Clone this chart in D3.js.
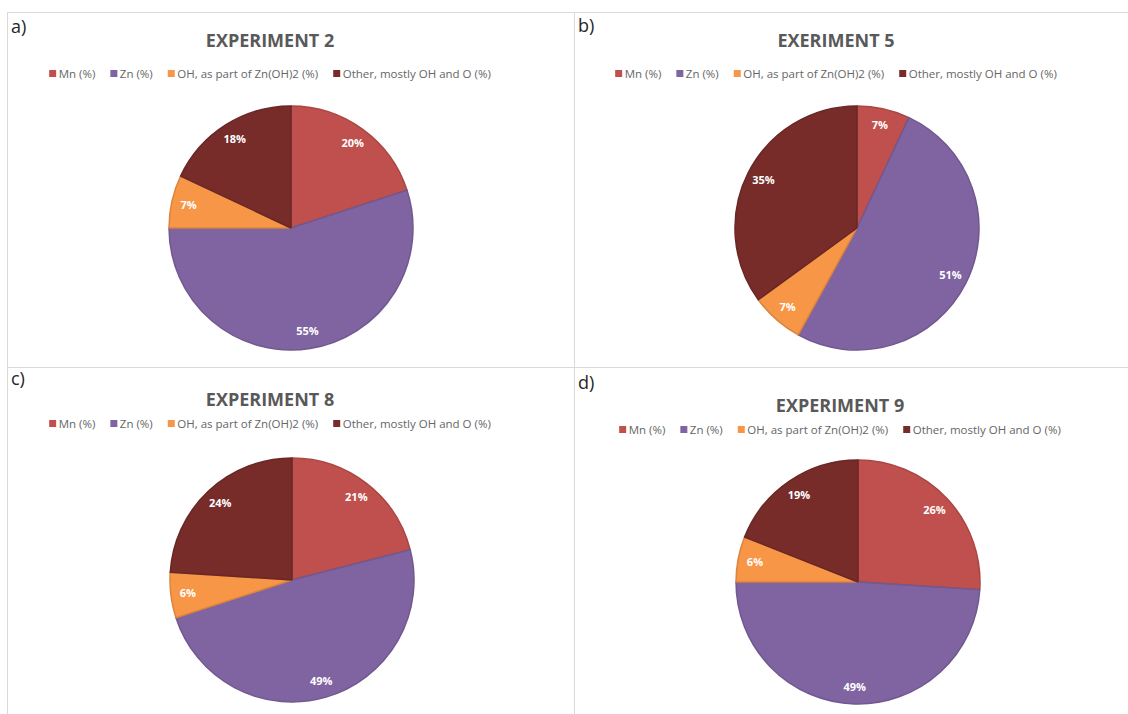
<!DOCTYPE html>
<html>
<head>
<meta charset="utf-8">
<script src="https://cdn.jsdelivr.net/npm/d3@7"></script>
<style>
  body { margin: 0; background: #fff; }
  svg { display: block; }
</style>
</head>
<body>
<div id="chart"></div>
<script>
// categories shared by all four pies
var categories = ["Mn (%)", "Zn (%)", "OH, as part of Zn(OH)2 (%)", "Other, mostly OH and O (%)"];
var colors = ["#C0504D", "#8064A2", "#F79646", "#772C2A"];

// panel titles and letters
var titles = ["EXPERIMENT 2", "EXERIMENT 5", "EXPERIMENT 8", "EXPERIMENT 9"];
var letters = ["a)", "b)", "c)", "d)"];

// percentages, in category order
var exp2 = [20, 55, 7, 18];
var exp5 = [7, 51, 7, 35];
var exp8 = [21, 49, 6, 24];
var exp9 = [26, 49, 6, 19];
var series = [exp2, exp5, exp8, exp9];

var W = 1128, H = 714;

// panel frames and the small offsets of each panel's contents
var panels = [
    {x: 7,   y: 12,  w: 567, h: 355, letterY: 33, titleY: 47, legendY: 78, cy: 228},
    {x: 574, y: 12,  w: 554, h: 355, letterY: 32, titleY: 47, legendY: 78, cy: 228},
    {x: 7,   y: 367, w: 567, h: 347, letterY: 385, titleY: 406, legendY: 428, cy: 580},
    {x: 574, y: 367, w: 554, h: 347, letterY: 389, titleY: 412, legendY: 434, cy: 582}
];
var pieCx = [291, 857, 292, 858];
var textCx = [270, 836, 270, 840];
var radius = 122;

var svg = d3.select("#chart").append("svg")
    .attr("width", W)
    .attr("height", H);

var pie = d3.pie()
    .sort(null)
    .value(function(d) { return d; });

var arc = d3.arc()
    .innerRadius(0)
    .outerRadius(radius);

var labelArc = d3.arc()
    .innerRadius(radius * 0.86)
    .outerRadius(radius * 0.86);

var font = "'Open Sans', 'Liberation Sans', sans-serif";

panels.forEach(function(p, i) {
    var g = svg.append("g");

    // frame
    g.append("rect")
        .attr("x", p.x + 0.5)
        .attr("y", p.y + 0.5)
        .attr("width", p.w)
        .attr("height", p.h)
        .attr("fill", "none")
        .attr("stroke", "#D9D9D9")
        .attr("stroke-width", 1);

    g.append("text")
        .attr("x", p.x + 4)
        .attr("y", p.letterY)
        .attr("font-family", font)
        .attr("font-size", 18)
        .attr("fill", "#262626")
        .text(letters[i]);

    g.append("text")
        .attr("x", textCx[i])
        .attr("y", p.titleY)
        .attr("text-anchor", "middle")
        .attr("font-family", font)
        .attr("font-weight", "bold")
        .attr("font-size", 18)
        .attr("fill", "#595959")
        .text(titles[i]);

    // legend, laid out from measured text widths and centred
    var legend = g.append("g");
    var xpos = 0;
    categories.forEach(function(c, k) {
        var item = legend.append("g").attr("transform", "translate(" + xpos + ",0)");
        item.append("rect")
            .attr("x", 0)
            .attr("y", -8)
            .attr("width", 7)
            .attr("height", 7)
            .attr("fill", colors[k]);
        var t = item.append("text")
            .attr("x", 9.5)
            .attr("y", 0)
            .attr("font-family", font)
            .attr("font-size", 11.5)
            .attr("fill", "#666666")
            .text(c);
        xpos += 9.5 + t.node().getComputedTextLength() + 15;
    });
    var legendW = xpos - 15;
    legend.attr("transform", "translate(" + (textCx[i] - legendW / 2) + "," + p.legendY + ")");

    // pie
    var pg = g.append("g")
        .attr("transform", "translate(" + pieCx[i] + "," + p.cy + ")");

    var slices = pie(series[i]);

    pg.selectAll("path")
        .data(slices)
        .enter()
        .append("path")
        .attr("d", arc)
        .attr("fill", function(d, k) { return colors[k]; })
        .attr("stroke", function(d, k) { return d3.color(colors[k]).darker(0.35); })
        .attr("stroke-width", 1.5)
        .attr("stroke-linejoin", "round");

    pg.selectAll("text")
        .data(slices)
        .enter()
        .append("text")
        .attr("transform", function(d) { return "translate(" + labelArc.centroid(d) + ")"; })
        .attr("text-anchor", "middle")
        .attr("dy", "0.35em")
        .attr("font-family", font)
        .attr("font-weight", "bold")
        .attr("font-size", 11)
        .attr("fill", "#ffffff")
        .text(function(d) { return d.data + "%"; });
});
</script>
</body>
</html>
